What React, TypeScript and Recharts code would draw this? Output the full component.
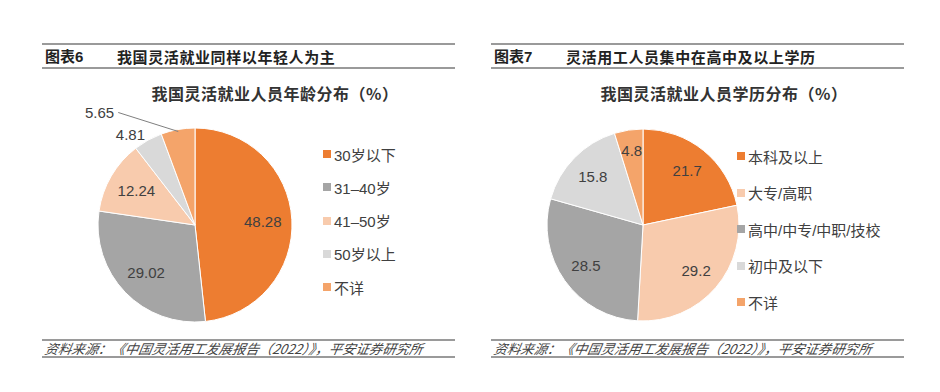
import React from "react";
import { PieChart, Pie, Cell } from "recharts";

const ageNames = ["30岁以下", "31–40岁", "41–50岁", "50岁以上", "不详"];
const ageValues = [48.28, 29.02, 12.24, 4.81, 5.65];
const ageColors = ["#ED7D31", "#A5A5A5", "#F8CBAD", "#D9D9D9", "#F4A46A"];

const eduNames = ["本科及以上", "大专/高职", "高中/中专/中职/技校", "初中及以下", "不详"];
const eduValues = [21.7, 29.2, 28.5, 15.8, 4.8];
const eduColors = ["#ED7D31", "#F8CBAD", "#A5A5A5", "#D9D9D9", "#F4A46A"];

const RAD = Math.PI / 180;
const NUM_FONT = "'Liberation Sans', Arial, 'Noto Sans CJK SC', sans-serif";
const CJK_FONT = "'Liberation Sans', 'Noto Sans CJK SC', sans-serif";

const ageData = ageNames.map((name, i) => ({ name, value: ageValues[i] }));
const eduData = eduNames.map((name, i) => ({ name, value: eduValues[i] }));

function polar(cx: number, cy: number, r: number, angle: number) {
  return { x: cx + r * Math.cos(-angle * RAD), y: cy + r * Math.sin(-angle * RAD) };
}

function ageLabel(props: any) {
  const { cx, cy, midAngle, outerRadius, index } = props;
  const text = String(ageValues[index]);
  if (index === 3) {
    const p = polar(cx, cy, outerRadius + 6, midAngle);
    return (
      <text x={p.x} y={p.y} textAnchor="end" dominantBaseline="central" fill="#404040" fontSize={15} fontFamily={NUM_FONT}>
        {text}
      </text>
    );
  }
  if (index === 4) {
    const s = polar(cx, cy, outerRadius - 2, midAngle);
    const e = { x: s.x - 60, y: s.y - 19 };
    return (
      <g>
        <polyline points={`${s.x},${s.y} ${e.x},${e.y}`} stroke="#7f7f7f" strokeWidth={1} fill="none" />
        <text x={e.x - 4} y={e.y} textAnchor="end" dominantBaseline="central" fill="#404040" fontSize={15} fontFamily={NUM_FONT}>
          {text}
        </text>
      </g>
    );
  }
  const p = polar(cx, cy, outerRadius * 0.7, midAngle);
  return (
    <text x={p.x} y={p.y} textAnchor="middle" dominantBaseline="central" fill="#404040" fontSize={15} fontFamily={NUM_FONT}>
      {text}
    </text>
  );
}

function eduLabel(props: any) {
  const { cx, cy, midAngle, outerRadius, index } = props;
  const r = index === 4 ? outerRadius * 0.78 : outerRadius * 0.73;
  const p = polar(cx, cy, r, midAngle);
  return (
    <text x={p.x} y={p.y} textAnchor="middle" dominantBaseline="central" fill="#404040" fontSize={15} fontFamily={NUM_FONT}>
      {String(eduValues[index])}
    </text>
  );
}

function Legend({ names, colors, left, top, gap }: { names: string[]; colors: string[]; left: number; top: number; gap: number }) {
  return (
    <>
      {names.map((n, i) => (
        <div
          key={n}
          style={{
            position: "absolute",
            left,
            top: top + i * gap - 10,
            height: 20,
            display: "flex",
            alignItems: "center",
            fontFamily: CJK_FONT,
            fontSize: 15,
            color: "#404040",
            whiteSpace: "nowrap",
          }}
        >
          <span style={{ width: 8, height: 8, background: colors[i], marginRight: 3, display: "inline-block" }} />
          {n}
        </div>
      ))}
    </>
  );
}

function Rule({ left, width, top }: { left: number; width: number; top: number }) {
  return <div style={{ position: "absolute", left, width, top, height: 2, background: "#9a9a9a" }} />;
}

function Panel({ x, tag, title, subtitle }: { x: number; tag: string; title: string; subtitle: string }) {
  return (
    <>
      <Rule left={x + 42} width={413} top={43} />
      <div style={{ position: "absolute", left: x + 45, top: 47, height: 20, lineHeight: "20px", fontFamily: CJK_FONT, fontWeight: 700, fontSize: 15, color: "#222" }}>
        {tag}
      </div>
      <div style={{ position: "absolute", left: x + 117, top: 47, height: 20, lineHeight: "20px", fontFamily: "'Noto Sans CJK SC', sans-serif", fontWeight: 700, fontSize: 15, letterSpacing: 0.6, color: "#222", whiteSpace: "nowrap" }}>
        {title}
      </div>
      <Rule left={x + 42} width={413} top={67} />
      <div style={{ position: "absolute", left: x + 100, width: 350, top: 82, height: 22, lineHeight: "22px", textAlign: "center", fontFamily: "'Noto Sans CJK SC', sans-serif", fontWeight: 700, fontSize: 16, letterSpacing: 0.5, color: "#333", whiteSpace: "nowrap" }}>
        {subtitle}
      </div>
      <Rule left={x + 42} width={413} top={339} />
      <div style={{ position: "absolute", left: x + 45, top: 340, height: 17, lineHeight: "17px", fontFamily: "'Noto Sans CJK SC', sans-serif", fontStyle: "italic", fontSize: 13.4, color: "#444", whiteSpace: "nowrap", transform: "skewX(-10deg)" }}>
        资料来源：《中国灵活用工发展报告（2022）》，平安证券研究所
      </div>
      <Rule left={x + 42} width={413} top={356} />
    </>
  );
}

export default function App() {
  return (
    <div style={{ position: "absolute", left: 0, top: 0, width: 940, height: 392, background: "#fff", overflow: "hidden" }}>
      <div style={{ position: "absolute", left: 0, top: 0 }}>
        <PieChart width={470} height={392}>
          <Pie
            data={ageData}
            dataKey="value"
            nameKey="name"
            cx={190}
            cy={220}
            outerRadius={97}
            startAngle={90}
            endAngle={-270}
            stroke="#fff"
            strokeWidth={1}
            label={ageLabel}
            labelLine={false}
            isAnimationActive={false}
          >
            {ageData.map((d, i) => (
              <Cell key={d.name} fill={ageColors[i]} />
            ))}
          </Pie>
        </PieChart>
      </div>
      <div style={{ position: "absolute", left: 470, top: 0 }}>
        <PieChart width={470} height={392}>
          <Pie
            data={eduData}
            dataKey="value"
            nameKey="name"
            cx={168}
            cy={220}
            outerRadius={96}
            startAngle={90}
            endAngle={-270}
            stroke="#fff"
            strokeWidth={1}
            label={eduLabel}
            labelLine={false}
            isAnimationActive={false}
          >
            {eduData.map((d, i) => (
              <Cell key={d.name} fill={eduColors[i]} />
            ))}
          </Pie>
        </PieChart>
      </div>
      <Panel x={0} tag="图表6" title="我国灵活就业同样以年轻人为主" subtitle="我国灵活就业人员年龄分布（%）" />
      <Panel x={449} tag="图表7" title="灵活用工人员集中在高中及以上学历" subtitle="我国灵活就业人员学历分布（%）" />
      <Legend names={ageNames} colors={ageColors} left={323} top={154} gap={33.3} />
      <Legend names={eduNames} colors={eduColors} left={737} top={156} gap={36.6} />
    </div>
  );
}
